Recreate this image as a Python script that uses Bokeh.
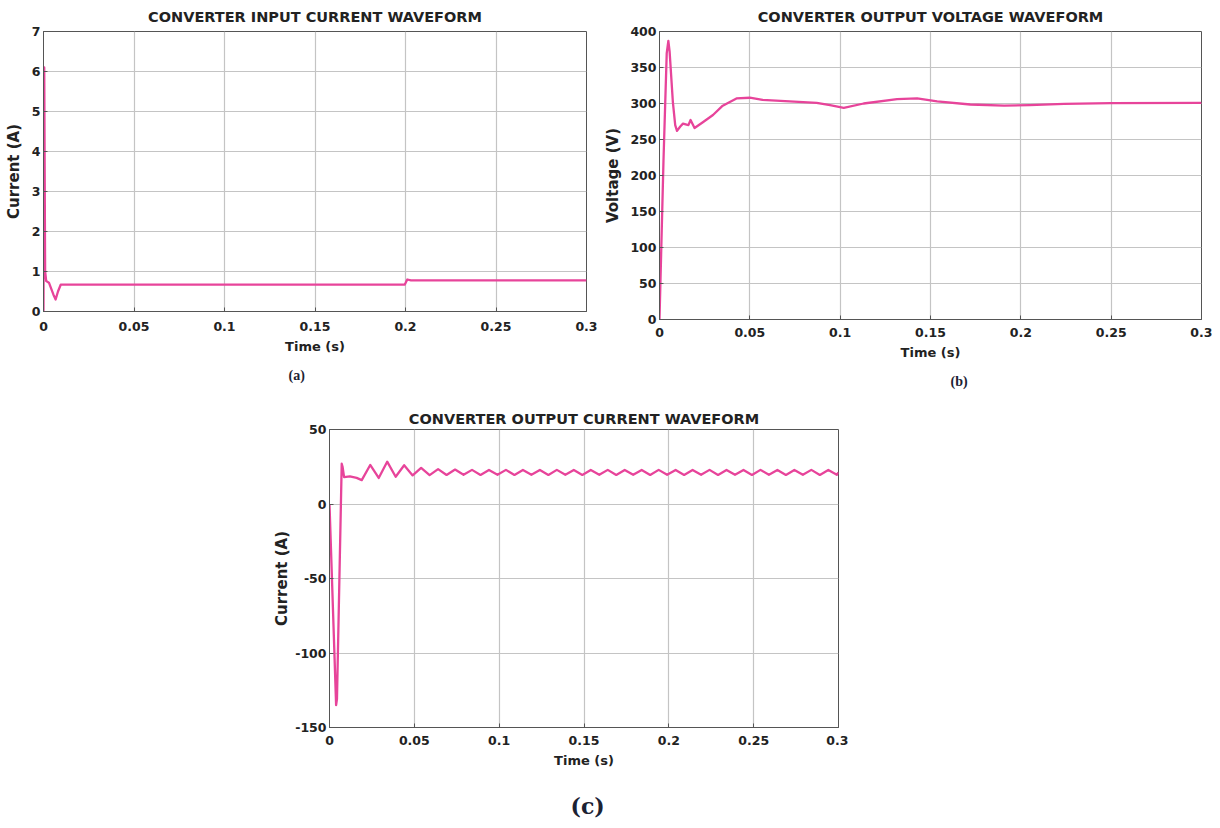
from bokeh.plotting import figure
from bokeh.models import Range1d, FixedTicker, Title, Spacer
from bokeh.layouts import column, row
from bokeh.embed import file_html
from bokeh.resources import INLINE

# ---------------- data ----------------
x_ticks = [0, 0.05, 0.1, 0.15, 0.2, 0.25, 0.3]
x_tick_labels = ["0", "0.05", "0.1", "0.15", "0.2", "0.25", "0.3"]

# (a) converter input current
t_in = [0, 0.0002, 0.0004, 0.0009, 0.0015, 0.003, 0.0055, 0.0067, 0.008, 0.0095,
        0.05, 0.1, 0.15, 0.1995, 0.2, 0.201, 0.203, 0.25, 0.3]
i_in = [0, 3.5, 6.1, 1.0, 0.76, 0.72, 0.42, 0.3, 0.5, 0.67,
        0.67, 0.67, 0.67, 0.67, 0.71, 0.8, 0.78, 0.78, 0.78]
y_ticks_a = [0, 1, 2, 3, 4, 5, 6, 7]
y_tick_labels_a = ["0", "1", "2", "3", "4", "5", "6", "7"]

# (b) converter output voltage
t_v = [0, 0.0022, 0.0040, 0.0049, 0.0056, 0.0074, 0.0087, 0.0097, 0.0115, 0.013,
       0.016, 0.0172, 0.0194, 0.024, 0.0296, 0.035, 0.0426, 0.05, 0.057, 0.072,
       0.087, 0.0944, 0.102, 0.113, 0.1315, 0.1426, 0.1537, 0.172, 0.1907, 0.205,
       0.224, 0.25, 0.3]
v_out = [0, 220, 370, 387, 372, 302, 270, 262, 268, 272,
         270, 277, 266, 274, 284, 297, 307, 308, 305, 303,
         301, 297.7, 294, 300, 306, 307, 303, 298.6, 297, 297.7,
         299.5, 300.6, 301]
y_ticks_b = [0, 50, 100, 150, 200, 250, 300, 350, 400]
y_tick_labels_b = ["0", "50", "100", "150", "200", "250", "300", "350", "400"]

# (c) converter output current
t_out = [0, 0.0039, 0.0044, 0.0072, 0.0077, 0.0086, 0.012, 0.016, 0.019,
         0.024, 0.029, 0.034, 0.039, 0.044, 0.049, 0.054, 0.059, 0.064, 0.069,
         0.074, 0.079, 0.084, 0.089, 0.094, 0.099, 0.104, 0.109, 0.114, 0.119,
         0.124, 0.129, 0.134, 0.139, 0.144, 0.149, 0.154, 0.159, 0.164, 0.169,
         0.174, 0.179, 0.184, 0.189, 0.194, 0.199, 0.204, 0.209, 0.214, 0.219,
         0.224, 0.229, 0.234, 0.239, 0.244, 0.249, 0.254, 0.259, 0.264, 0.269,
         0.274, 0.279, 0.284, 0.289, 0.294, 0.299,
         0.3]
i_out = [0, -135, -131, 27, 25, 18, 18.5, 17.5, 16,
         26.2, 17.5, 28.4, 18.3, 26.0, 19.2, 24.2, 19.4, 23.4, 19.5,
         23.1, 19.6, 22.9, 19.5, 22.8, 19.6, 22.9, 19.5, 22.8, 19.6,
         22.8, 19.5, 22.9, 19.6, 22.8, 19.5, 22.8, 19.6, 22.9, 19.5,
         22.8, 19.6, 22.8, 19.5, 22.9, 19.6, 22.8, 19.5, 22.8, 19.6,
         22.9, 19.5, 22.8, 19.6, 22.8, 19.5, 22.9, 19.6, 22.8, 19.5,
         22.8, 19.6, 22.9, 19.5, 22.8, 19.6,
         21.2]
y_ticks_c = [-150, -100, -50, 0, 50]
y_tick_labels_c = ["-150", "-100", "-50", "0", "50"]

LINE = "#E7449A"
FONT = "DejaVu Sans"


def make(title, ylabel, xs, ys, yr, yticks, ylabels, fw, fh, bl, br, bt, bb,
         sub, sub_off, sub_font, sub_size, sub_standoff, title_standoff, ylab_standoff,
         xtick_standoff):
    p = figure(frame_width=fw, frame_height=fh, min_border_left=bl, min_border_right=br,
               min_border_top=bt, min_border_bottom=bb,
               x_range=Range1d(0, 0.3), y_range=Range1d(*yr),
               output_backend="svg", toolbar_location=None, tools="")
    p.title.text = title
    p.title.align = "center"
    p.title.text_font = FONT
    p.title.text_font_size = "14.5px"
    p.title.text_font_style = "bold"
    p.title.text_color = "#222222"
    p.title.standoff = title_standoff
    p.line(xs, ys, line_color=LINE, line_width=2.3, line_join="round")
    p.xaxis.ticker = FixedTicker(ticks=x_ticks)
    p.xaxis.major_label_overrides = {t: l for t, l in zip(x_ticks, x_tick_labels)}
    p.yaxis.ticker = FixedTicker(ticks=yticks)
    p.yaxis.major_label_overrides = {t: l for t, l in zip(yticks, ylabels)}
    p.xaxis.axis_label = "Time (s)"
    p.yaxis.axis_label = ylabel
    for ax in (p.xaxis, p.yaxis):
        ax.axis_label_text_font = FONT
        ax.axis_label_text_font_style = "bold"
        ax.axis_label_text_color = "#222222"
        ax.major_label_text_font = FONT
        ax.major_label_text_font_style = "bold"
        ax.major_label_text_font_size = "12.5px"
        ax.major_label_text_color = "#222222"
        ax.major_tick_in = 4
        ax.major_tick_out = 0
        ax.minor_tick_in = 0
        ax.minor_tick_out = 0
        ax.axis_line_color = "#555555"
        ax.major_tick_line_color = "#555555"
    p.xaxis.axis_label_text_font_size = "13px"
    p.yaxis.axis_label_text_font_size = "15px"
    p.xaxis.major_label_standoff = xtick_standoff
    p.xaxis.axis_label_standoff = 5
    p.yaxis.major_label_standoff = 3
    p.yaxis.axis_label_standoff = ylab_standoff
    p.grid.grid_line_color = "#c4c4c4"
    p.grid.grid_line_width = 1.2
    p.outline_line_color = "#555555"
    p.outline_line_width = 1
    p.background_fill_color = "white"
    p.border_fill_color = "white"
    p.add_layout(Title(text=sub, align="left", offset=sub_off, text_font=sub_font,
                       text_font_size=sub_size, text_font_style="bold",
                       text_color="#1c2233", standoff=sub_standoff), "below")
    return p


pa = make("CONVERTER INPUT CURRENT WAVEFORM", "Current (A)", t_in, i_in, (0, 7),
          y_ticks_a, y_tick_labels_a,
          543, 280, 36, 15, 30, 82, "(a)", 245, "Liberation Serif", "14px", 18, 13, 6, 10)
pb = make("CONVERTER OUTPUT VOLTAGE WAVEFORM", "Voltage (V)", t_v, v_out, (0, 400),
          y_ticks_b, y_tick_labels_b,
          542, 288, 55, 11, 30, 74, "(b)", 291, "Liberation Serif", "14px", 19, 13, 5, 8)
pc = make("CONVERTER OUTPUT CURRENT WAVEFORM", "Current (A)", t_out, i_out, (-150, 50),
          y_ticks_c, y_tick_labels_c,
          509, 298, 59, 10, 31, 95, "(c)", 241, "DejaVu Serif", "22px", 41, 6, 1, 8)

layout = column(row(Spacer(width=1, height=10), pa, pb),
                row(Spacer(width=270, height=10), pc))

open("out.html", "w").write(file_html(layout, INLINE))
